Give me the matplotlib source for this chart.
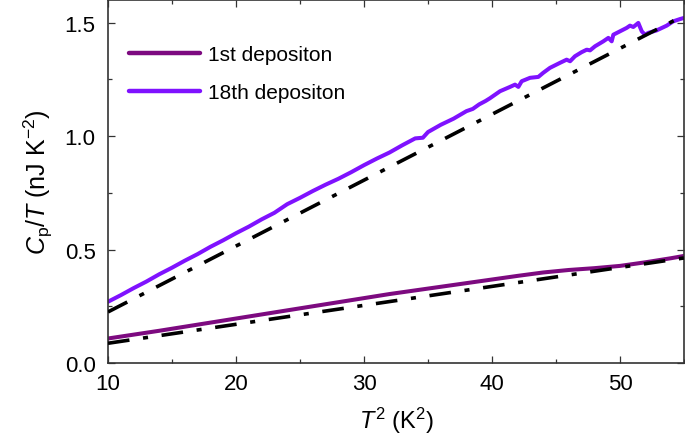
import matplotlib
matplotlib.use("Agg")
import matplotlib.pyplot as plt

plt.rcParams['font.family'] = ['Liberation Sans', 'DejaVu Sans']
plt.rcParams['mathtext.fontset'] = 'custom'
plt.rcParams['mathtext.rm'] = 'Liberation Sans'
plt.rcParams['mathtext.it'] = 'Liberation Sans:italic'
plt.rcParams['mathtext.bf'] = 'Liberation Sans:bold'

# 1st deposition
t2_first = [10, 12, 14, 16, 18, 20, 22, 24, 26, 28, 30, 32, 34, 36, 38, 40,
            42, 44, 46, 48, 50, 52, 54, 55]
cp_first = [0.108, 0.125, 0.142, 0.160, 0.178, 0.196, 0.214, 0.232, 0.250,
            0.268, 0.286, 0.304, 0.320, 0.336, 0.352, 0.368, 0.384, 0.399,
            0.410, 0.418, 0.428, 0.444, 0.462, 0.472]

# 18th deposition
t2_18 = [10, 11, 12, 13, 14, 15, 16, 17, 18, 19, 20, 21, 22, 23, 24, 25, 26,
         27, 28, 29, 30, 31, 32, 33, 34, 34.6, 35, 36, 37, 38, 38.5, 39, 39.5,
         39.84, 40.63, 41.41, 41.8, 42.06, 42.32, 42.97, 43.62, 44.0, 44.53,
         45.31, 45.83, 46.1, 46.48, 47.0, 47.4, 47.66, 48.05, 48.7, 49.09,
         49.35, 49.48, 50.0, 50.52, 50.78, 51.04, 51.43, 51.7, 51.95, 52.21,
         52.86, 53.65, 54.16, 54.69, 55.0]
cp_18 = [0.270, 0.299, 0.330, 0.359, 0.391, 0.420, 0.451, 0.480, 0.512, 0.541,
         0.572, 0.601, 0.633, 0.662, 0.700, 0.728, 0.758, 0.786, 0.812, 0.841,
         0.872, 0.901, 0.928, 0.960, 0.990, 0.993, 1.018, 1.050, 1.077, 1.110,
         1.120, 1.140, 1.155, 1.167, 1.198, 1.217, 1.227, 1.217, 1.242, 1.257,
         1.261, 1.279, 1.301, 1.323, 1.337, 1.330, 1.352, 1.370, 1.381, 1.378,
         1.396, 1.418, 1.433, 1.418, 1.447, 1.462, 1.477, 1.487, 1.481, 1.499,
         1.462, 1.447, 1.455, 1.466, 1.487, 1.506, 1.516, 1.521]

# Linear fits (dash-dot)
fit_t2 = [10, 55]
fit_first = [0.087, 0.463]
fit_18 = [0.225, 1.532]

labels = ['1st depositon', '18th depositon']
colors = ['#7d0a80', '#7f12ff']

fig = plt.figure(figsize=(6.85, 4.39), dpi=100)
ax = fig.add_axes([108/685, 75/439, 576/685, 363/439])

ax.plot(t2_first, cp_first, color=colors[0], lw=2.9, label=labels[0],
        solid_capstyle='round', zorder=2)
ax.plot(t2_18, cp_18, color=colors[1], lw=2.9, label=labels[1],
        solid_capstyle='round', zorder=2)
for fy in (fit_first, fit_18):
    ln, = ax.plot(fit_t2, fy, color='black', lw=2.6, zorder=3,
                  dash_capstyle='butt')
    ln.set_dashes((6.0, 3.8, 1.4, 3.8))

ax.set_xlim(10, 55)
ax.set_ylim(0, 1.6)
ax.set_xticks([10, 20, 30, 40, 50])
ax.set_xticks([15, 25, 35, 45, 55], minor=True)
ax.set_yticks([0.0, 0.5, 1.0, 1.5])
ax.set_yticks([0.25, 0.75, 1.25], minor=True)
ax.set_yticklabels(['0.0', '0.5', '1.0', '1.5'])

ax.tick_params(which='both', direction='in', top=True, right=True,
               labelsize=16, width=0.9, color='#333333')
ax.tick_params(which='major', length=5)
ax.tick_params(which='minor', length=2.6)
ax.tick_params(axis='y', pad=9)
ax.tick_params(axis='x', pad=7)
for s in ax.spines.values():
    s.set_linewidth(1.2)
    s.set_color('#333333')

ax.set_xlabel(r'$T^2$ (K$^2$)', fontsize=17, labelpad=8)
ax.set_ylabel(r'$C_\mathrm{p}/T$ (nJ K$^{-2}$)', fontsize=18, labelpad=7)

leg = ax.legend(loc='upper left', bbox_to_anchor=(0.037, 0.875), frameon=False,
                fontsize=15, handlelength=3.4, handletextpad=0.4,
                labelspacing=0.9, borderpad=0, borderaxespad=0)
for h in leg.get_lines():
    h.set_linewidth(3.2)

fig.savefig('out.png', dpi=100)
